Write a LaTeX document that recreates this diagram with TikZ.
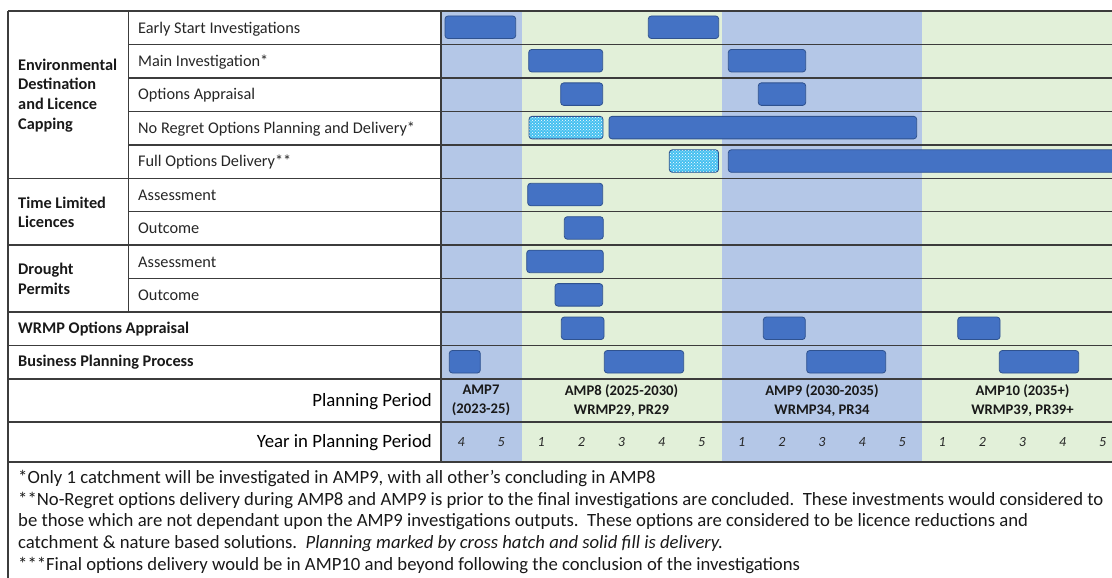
\documentclass[tikz,border=0pt]{standalone}
\usepackage{fontspec}
\setmainfont{Carlito}
\usetikzlibrary{patterns}

\definecolor{ampblue}{RGB}{180,199,231}
\definecolor{ampgreen}{RGB}{226,240,217}
\definecolor{barfill}{RGB}{68,114,196}
\definecolor{barline}{RGB}{47,82,143}
\definecolor{hatchfill}{RGB}{70,192,240}
\definecolor{gridline}{RGB}{60,60,60}

\tikzset{
  solidbar/.style={draw=barline, fill=barfill, line width=0.8pt, rounded corners=3pt},
  hatchbar/.style={draw=barline, line width=0.8pt, rounded corners=3pt,
    preaction={fill=hatchfill}, pattern=crosshatch dots, pattern color=white},
  gridrule/.style={draw=gridline, line width=1.4pt},
  tasktext/.style={anchor=base west, inner sep=0pt, text=black!85, font=\fontsize{16.3}{19.5}\selectfont},
  grouptext/.style={anchor=west, inner sep=0pt, align=left, text=black!90, font=\fontsize{16.3}{19.8}\selectfont\bfseries},
  periodtext/.style={inner sep=0pt, align=center, text=black!90, font=\fontsize{14.67}{19}\selectfont\bfseries},
  yeartext/.style={anchor=base, inner sep=0pt, text=black!85, font=\fontsize{14}{16}\selectfont\itshape},
  notetext/.style={anchor=base west, inner sep=0pt, text=black!90, font=\fontsize{18.7}{21.7}\selectfont},
}

\begin{document}
\begin{tikzpicture}[x=1pt, y=-1pt]
  \useasboundingbox (0,0) rectangle (1112,578);
  \clip (0,0) rectangle (1112,578);

  % 1. period bands behind the chart
  \fill[ampblue]  (441,11) rectangle (521.5,462);
  \fill[ampgreen] (521.5,11) rectangle (722,462);
  \fill[ampblue]  (722,11) rectangle (922,462);
  \fill[ampgreen] (922,11) rectangle (1130,462);

  % 2. bars (row, start, end)
  \foreach \r/\a/\b in {1/445/515.7, 1/648.3/718.7,
      2/528.7/602.7, 2/728.3/805.7,
      3/560.7/602.7, 3/758.3/805.7,
      4/609/916.7, 5/728.3/1140,
      6/527.7/602.7, 7/564.3/603.3,
      8/526.7/603.3, 9/555/602.7,
      10/561.3/604, 10/763.3/805.3, 10/957.7/1000,
      11/449.3/480.3, 11/604.3/683.7, 11/806.7/885.7, 11/999.3/1078.7}
    \draw[solidbar] (\a,{11+(\r-1)*33.45+5}) rectangle (\b,{11+(\r-1)*33.45+27.5});
  \foreach \r/\a/\b in {4/529/603, 5/669.3/718.5}
    \draw[hatchbar] (\a,{11+(\r-1)*33.45+5}) rectangle (\b,{11+(\r-1)*33.45+27.5});

  % 3. table rules
  \foreach \k in {1,2,3,4,6,8}
    \draw[gridrule] (128.5,{11+\k*33.45}) -- (1130,{11+\k*33.45});
  \foreach \k in {0,5,7,9,10,11}
    \draw[gridrule] (8,{11+\k*33.45}) -- (1130,{11+\k*33.45});
  \draw[gridrule] (8,422) -- (1130,422);
  \draw[gridrule] (8,462) -- (1130,462);
  \draw[gridrule] (8,11) -- (8,590);
  \draw[gridrule] (128.5,11) -- (128.5,312.05);
  \draw[gridrule] (441,11) -- (441,462);

  % 4. row labels
  \foreach \r/\txt in {1/Early Start Investigations, 2/Main Investigation*,
      3/Options Appraisal, 4/No Regret Options Planning and Delivery*,
      5/Full Options Delivery**, 6/Assessment, 7/Outcome, 8/Assessment, 9/Outcome}
    \node[tasktext] (task\r) at (138,{11+(\r-0.5)*33.45+5.3}) {\txt};

  \node[grouptext] (grpenv) at (18,95.5) {Environmental\\Destination\\and Licence\\Capping};
  \node[grouptext] (grptll) at (18,212.3) {Time Limited\\Licences};
  \node[grouptext] (grpdrought) at (18,279.2) {Drought\\Permits};
  \node[grouptext] (grpwrmp) at (18,328.8) {WRMP Options Appraisal};
  \node[grouptext] (grpbpp) at (18,362.2) {Business Planning Process};

  % 5. planning periods and years
  \node[anchor=base east, inner sep=0pt, font=\fontsize{18.8}{22}\selectfont] (ppl) at (432,406.5) {Planning Period};
  \node[anchor=base east, inner sep=0pt, font=\fontsize{18.8}{22}\selectfont] (ypl) at (432,447.5) {Year in Planning Period};
  \node[periodtext] (amp7) at (481,400.5) {AMP7\\(2023-25)};
  \node[periodtext] (amp8) at (621.5,400.5) {AMP8 (2025-2030)\\WRMP29, PR29};
  \node[periodtext] (amp9) at (822,400.5) {AMP9 (2030-2035)\\WRMP34, PR34};
  \node[periodtext] (amp10) at (1022.5,400.5) {AMP10 (2035+)\\WRMP39, PR39+};
  \foreach \n [count=\i] in {4,5,1,2,3,4,5,1,2,3,4,5,1,2,3,4,5}
    \node[yeartext] (yr\i) at ({441+(\i-0.5)*40.1},446.5) {\n};

  % 6. footnotes
  \node[notetext] (note1) at (18,483.5) {*Only 1 catchment will be investigated in AMP9, with all other’s concluding in AMP8};
  \node[notetext] (note2) at (18,505.2) {**No-Regret options delivery during AMP8 and AMP9 is prior to the final investigations are concluded.\ \ These investments would considered to};
  \node[notetext] (note3) at (18,526.9) {be those which are not dependant upon the AMP9 investigations outputs.\ \ These options are considered to be licence reductions and};
  \node[notetext] (note4) at (18,548.6) {catchment \& nature based solutions.\ \ \textit{Planning marked by cross hatch and solid fill is delivery.}};
  \node[notetext] (note5) at (18,570.3) {***Final options delivery would be in AMP10 and beyond following the conclusion of the investigations};
\end{tikzpicture}
\end{document}
